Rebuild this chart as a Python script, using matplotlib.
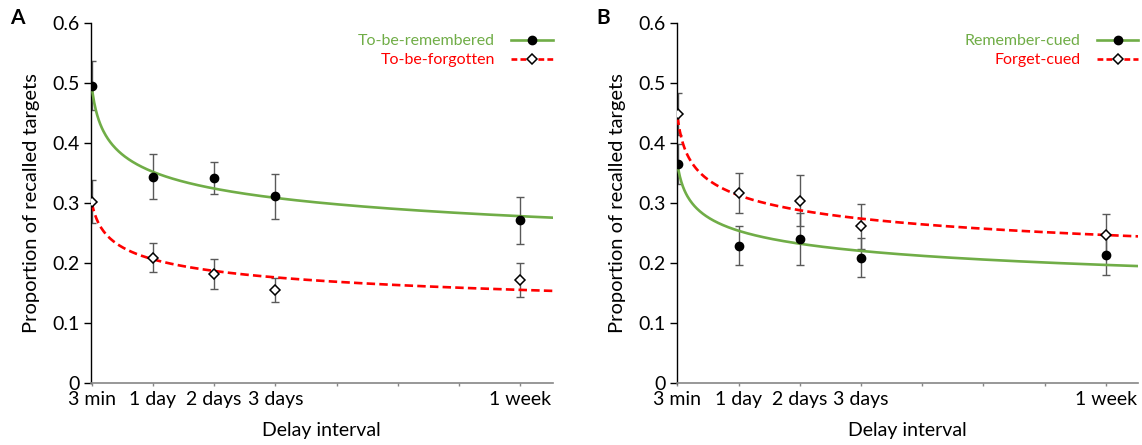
import numpy as np
import matplotlib
matplotlib.use("Agg")
import matplotlib.pyplot as plt
from matplotlib.lines import Line2D

plt.rcParams['font.family'] = ['Lato', 'DejaVu Sans']

# ---------------- data ----------------
delay_days = [3 / 1440, 1, 2, 3, 7]          # 3 min, 1 day, 2 days, 3 days, 1 week
tick_positions = [0, 1, 2, 3, 4, 5, 6, 7]
tick_labels = ['3 min', '1 day', '2 days', '3 days', '', '', '', '1 week']

# Panel A
a_remember = [0.496, 0.344, 0.342, 0.311, 0.271]
a_remember_err = [0.041, 0.037, 0.027, 0.037, 0.039]
a_forget = [0.302, 0.209, 0.181, 0.154, 0.171]
a_forget_err = [0.036, 0.025, 0.025, 0.020, 0.028]

# Panel B
b_remember = [0.365, 0.229, 0.240, 0.209, 0.213]
b_remember_err = [0.033, 0.032, 0.043, 0.032, 0.034]
b_forget = [0.448, 0.317, 0.304, 0.261, 0.247]
b_forget_err = [0.035, 0.033, 0.042, 0.038, 0.034]

# power trendline coefficients y = a * (t + c) ** (-b)
a_remember_fit = [0.355, 0.07, 0.125]
a_forget_fit = [0.2087, 0.09, 0.152]
b_remember_fit = [0.256, 0.072, 0.135]
b_forget_fit = [0.3154, 0.064, 0.126]

GREEN = '#70AD47'
RED = '#FF0000'
ERR = '#595959'
X_MAX = 7.53

fig = plt.figure(figsize=(11.42, 4.45), dpi=100)
axA = fig.add_axes([91 / 1142, 62.3 / 445, (552.7 - 91) / 1142, 359.4 / 445])
axB = fig.add_axes([676.7 / 1142, 62.3 / 445, (1138.3 - 676.7) / 1142, 359.4 / 445])


def trend(params, t):
    a, c, b = params
    return a * (t + c) ** (-b)


def panel(ax, rem, rem_err, forg, forg_err, rem_fit, forg_fit, labels, letter):
    t = np.linspace(delay_days[0], X_MAX, 600)
    ax.errorbar(delay_days, rem, yerr=rem_err, fmt='none', ecolor=ERR,
                elinewidth=1.0, capsize=3, capthick=1.0, zorder=2)
    ax.errorbar(delay_days, forg, yerr=forg_err, fmt='none', ecolor=ERR,
                elinewidth=1.0, capsize=3, capthick=1.0, zorder=2)
    ax.plot(t, trend(rem_fit, t), color=GREEN, lw=1.9, zorder=3)
    ax.plot(t, trend(forg_fit, t), color=RED, lw=1.9, ls=(0, (3.2, 1.6)), zorder=3)
    ax.plot(delay_days, rem, 'o', color='black', ms=6, ls='none', zorder=5)
    ax.plot(delay_days, forg, 'D', mfc='white', mec='black', mew=1.1, ms=5,
            ls='none', zorder=5)

    ax.set_xlim(-0.012, X_MAX)
    ax.set_ylim(0, 0.6)
    ax.set_yticks([0, 0.1, 0.2, 0.3, 0.4, 0.5, 0.6])
    ax.set_yticklabels(['0', '0.1', '0.2', '0.3', '0.4', '0.5', '0.6'])
    ax.set_xticks(tick_positions)
    ax.set_xticklabels(tick_labels)
    for s in ['top', 'right']:
        ax.spines[s].set_visible(False)
    ax.spines['left'].set_color('black')
    ax.spines['left'].set_linewidth(1.0)
    ax.spines['bottom'].set_color('#868686')
    ax.spines['bottom'].set_linewidth(1.2)
    ax.tick_params(axis='y', direction='out', length=5, width=1.0,
                   color='black', labelsize=14, pad=3)
    ax.tick_params(axis='x', direction='out', length=2, width=1.0,
                   color='#868686', labelsize=14, pad=4)
    ax.set_xlabel('Delay interval', fontsize=14, labelpad=10)
    ax.set_ylabel('Proportion of recalled targets', fontsize=14.5, labelpad=9)

    handles = [
        Line2D([], [], color=GREEN, lw=1.9, marker='o', mfc='black', mec='black', ms=6),
        Line2D([], [], color=RED, lw=1.9, ls=(0, (2.2, 1.2)), marker='D', mfc='white',
               mec='black', mew=1.1, ms=5),
    ]
    ax.legend(handles, labels, loc='upper right', bbox_to_anchor=(1.0, 0.97),
              frameon=False, markerfirst=False, numpoints=1, fontsize=11.5,
              handlelength=2.6, handletextpad=1.0, labelspacing=0.3,
              borderpad=0, borderaxespad=0, labelcolor='linecolor')
    ax.text(-0.175, 1.015, letter, transform=ax.transAxes, fontsize=15,
            fontweight='bold', ha='left', va='center')


panel(axA, a_remember, a_remember_err, a_forget, a_forget_err,
      a_remember_fit, a_forget_fit, ['To-be-remembered', 'To-be-forgotten'], 'A')
panel(axB, b_remember, b_remember_err, b_forget, b_forget_err,
      b_remember_fit, b_forget_fit, ['Remember-cued', 'Forget-cued'], 'B')

fig.savefig('out.png', dpi=100)
